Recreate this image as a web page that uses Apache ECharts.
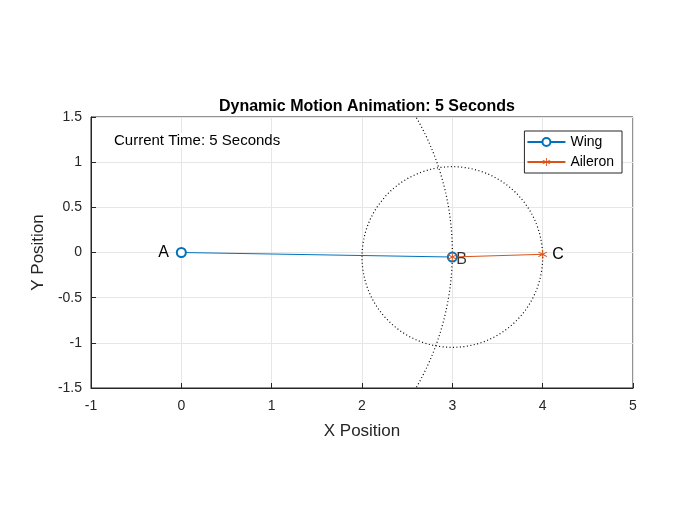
<!DOCTYPE html>
<html>
<head>
<meta charset="utf-8">
<script src="https://cdn.jsdelivr.net/npm/echarts@6/dist/echarts.min.js"></script>
<style>html,body{margin:0;background:#fff}#c{width:700px;height:525px}</style>
</head>
<body>
<div id="c"></div>
<script>
var chart = echarts.init(document.getElementById('c'));

// joint positions
var wingPts = [[0, 0, 'A'], [3, -0.05, '']];
var aileronPts = [[3, -0.05, ''], [4, -0.02, 'C']];
// dotted reach circles: [cx, cy, radius]
var circles = [[3, -0.05, 1.0], [0, 0, 3.0]];

var font = 'Liberation Sans, Arial, sans-serif';
var blue = '#0072BD', orange = '#D95319';
var star = 'path://M9,0 L11,0 L11,7.6 L17.6,3.8 L18.6,5.5 L12,9.3 L18.6,13.1 L17.6,14.8 L11,11 L11,18.6 L9,18.6 L9,11 L2.4,14.8 L1.4,13.1 L8,9.3 L1.4,5.5 L2.4,3.8 L9,7.6 Z';

option = {
    backgroundColor: '#fff',
    animation: false,
    title: {
        text: 'Dynamic Motion Animation: 5 Seconds',
        left: 362, top: 94, textAlign: 'center',
        textStyle: { fontFamily: font, fontSize: 16, fontWeight: 'bold', color: '#000' }
    },
    grid: { left: 91, right: 67, top: 117, bottom: 137, show: true, borderColor: '#262626', borderWidth: 1 },
    legend: {
        orient: 'vertical', right: 78, top: 131,
        backgroundColor: '#fff', borderColor: '#262626', borderWidth: 1,
        padding: [4, 8, 4, 2], itemGap: 6, itemWidth: 38, itemHeight: 10,
        textStyle: { fontFamily: font, fontSize: 14, color: '#000' },
        data: ['Wing', 'Aileron']
    },
    xAxis: {
        type: 'value', min: -1, max: 5, interval: 1,
        name: 'X Position', nameLocation: 'middle', nameGap: 35,
        nameTextStyle: { fontFamily: font, fontSize: 17, color: '#262626' },
        axisLine: { onZero: false, lineStyle: { color: '#262626' } },
        axisTick: { inside: true, length: 5 },
        axisLabel: { fontFamily: font, fontSize: 14, color: '#262626', margin: 11 },
        splitLine: { lineStyle: { color: '#e6e6e6' } }
    },
    yAxis: {
        type: 'value', min: -1.5, max: 1.5, interval: 0.5,
        name: 'Y Position', nameLocation: 'middle', nameGap: 44,
        nameTextStyle: { fontFamily: font, fontSize: 17, color: '#262626' },
        axisLine: { show: true, onZero: false, lineStyle: { color: '#262626' } },
        axisTick: { show: true, inside: true, length: 5 },
        axisLabel: { fontFamily: font, fontSize: 14, color: '#262626', margin: 9 },
        splitLine: { lineStyle: { color: '#e6e6e6' } }
    },
    graphic: [{
        type: 'text', left: 114, top: 133, z: 100,
        style: { text: 'Current Time: 5 Seconds', font: '15px ' + font, fill: '#000', backgroundColor: '#fff' }
    }],
    series: [{
        type: 'custom', name: 'circles', clip: true, silent: true,
        data: circles,
        renderItem: function (params, api) {
            var c = api.coord([api.value(0), api.value(1)]);
            var r = api.size([api.value(2), 0])[0];
            return {
                type: 'circle', shape: { cx: c[0], cy: c[1], r: r },
                style: { fill: 'none', stroke: '#000', lineWidth: 1.2, lineDash: [1, 2.5] }
            };
        }
    }, {
        name: 'Wing', type: 'line', data: wingPts,
        symbol: 'emptyCircle', symbolSize: 9,
        lineStyle: { color: blue, width: 1 }, itemStyle: { color: blue, borderWidth: 1 },
        label: {
            show: true, formatter: function (p) { return p.data[2]; },
            position: 'left', distance: 7, fontFamily: font, fontSize: 16, color: '#000'
        }
    }, {
        name: 'Aileron', type: 'line', data: aileronPts,
        symbol: star, symbolSize: 9,
        lineStyle: { color: orange, width: 1 }, itemStyle: { color: orange },
        label: {
            show: true, formatter: function (p) { return p.data[2]; },
            position: 'right', distance: 5, fontFamily: font, fontSize: 16, color: '#000'
        }
    }, {
        type: 'scatter', data: [[3, -0.05]], symbolSize: 0, silent: true,
        label: {
            show: true, formatter: 'B', position: 'right', distance: 4, offset: [0, 3],
            fontFamily: font, fontSize: 16, color: '#000'
        }
    }]
};
chart.setOption(option);
</script>
</body>
</html>
